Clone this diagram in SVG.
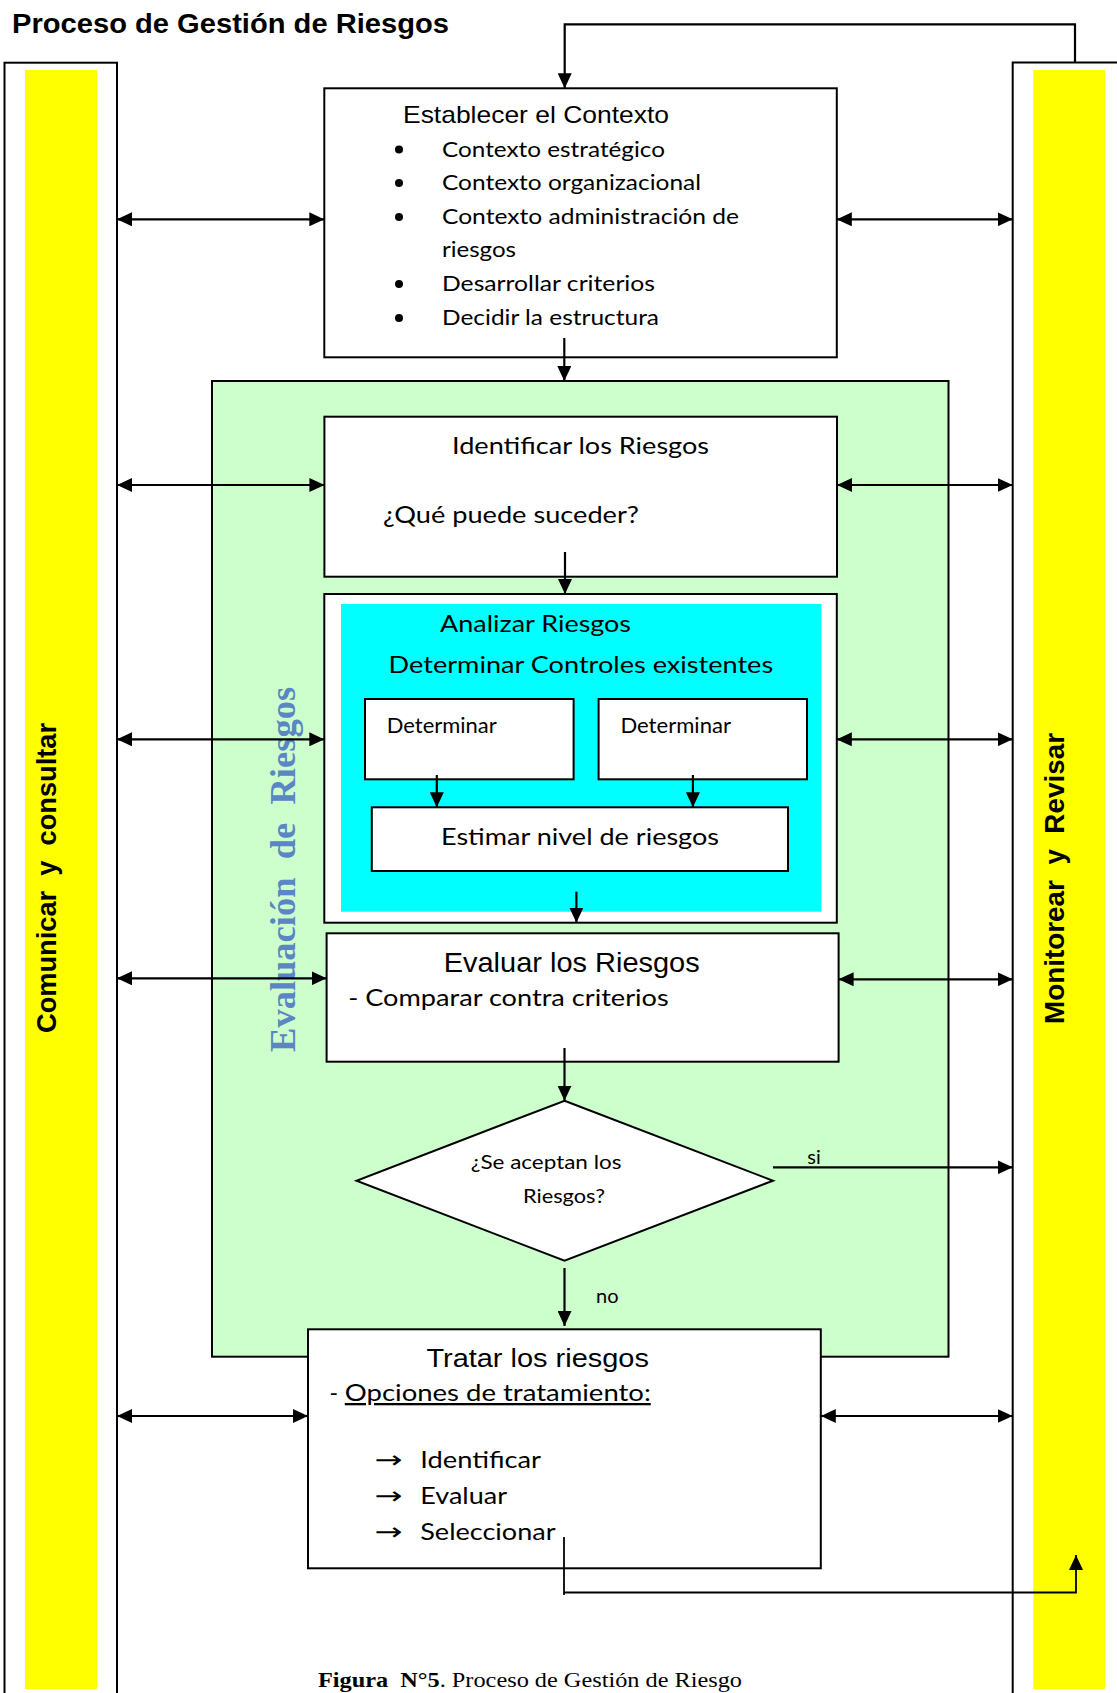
<svg xmlns="http://www.w3.org/2000/svg" width="1117" height="1693" viewBox="0 0 1117 1693">
<defs>
<marker id="ah" markerUnits="userSpaceOnUse" markerWidth="15" markerHeight="14" refX="15" refY="7" orient="auto-start-reverse">
<path d="M0,0 L15,7 L0,14 z" fill="#000"/>
</marker>
<style>
.box{fill:#fff;stroke:#000;stroke-width:2}
.con{fill:none;stroke:#000;stroke-width:2.2}
.thin{fill:none;stroke:#000;stroke-width:1.8}
.ar{font-family:'Liberation Sans',Arial,sans-serif;fill:#000}
.ca{font-family:Lato,'Noto Sans',sans-serif;fill:#000}
.sym{font-family:'DejaVu Sans',sans-serif;fill:#000}
.se{font-family:'Liberation Serif','Times New Roman',serif;fill:#000}
</style>
</defs>
<rect width="1117" height="1693" fill="#fff"/>
<text class="ar" x="12" y="32.5" font-size="27.5" font-weight="bold" textLength="437" lengthAdjust="spacingAndGlyphs">Proceso de Gestión de Riesgos</text>

<g id="comunicar">
<rect class="box" x="4.5" y="62.7" width="112.5" height="1650"/>
<rect x="25" y="70" width="72" height="1619" fill="#ffff00"/>
<text class="ar" transform="translate(56,878) rotate(-90)" text-anchor="middle" font-size="28" font-weight="bold" textLength="310" lengthAdjust="spacingAndGlyphs">Comunicar&#160; y&#160; consultar</text>
</g>

<g id="monitorear">
<rect class="box" x="1012.7" y="62.5" width="200" height="1650"/>
<rect x="1033.3" y="70" width="71.7" height="1619" fill="#ffff00"/>
<text class="ar" transform="translate(1064,878.5) rotate(-90)" text-anchor="middle" font-size="28" font-weight="bold" textLength="291" lengthAdjust="spacingAndGlyphs">Monitorear&#160; y&#160; Revisar</text>
</g>

<g id="evaluacion">
<rect x="212" y="381" width="736.5" height="975.7" fill="#ccffcc" stroke="#000" stroke-width="2"/>
</g>

<g id="establecer">
<rect class="box" x="324.3" y="88.3" width="512.5" height="269"/>
<text class="ar" x="403" y="123.3" font-size="24" textLength="266" lengthAdjust="spacingAndGlyphs">Establecer el Contexto</text>
<g fill="#000">
<circle cx="399" cy="149.5" r="4"/>
<circle cx="399" cy="183" r="4"/>
<circle cx="399" cy="217" r="4"/>
<circle cx="399" cy="284" r="4"/>
<circle cx="399" cy="318" r="4"/>
</g>
<text class="ca" x="442" y="156.5" font-size="22" textLength="223" lengthAdjust="spacingAndGlyphs">Contexto estratégico</text>
<text class="ca" x="442" y="190" font-size="22" textLength="259" lengthAdjust="spacingAndGlyphs">Contexto organizacional</text>
<text class="ca" x="442" y="224" font-size="22" textLength="297" lengthAdjust="spacingAndGlyphs">Contexto administración de</text>
<text class="ca" x="442" y="257" font-size="22" textLength="74" lengthAdjust="spacingAndGlyphs">riesgos</text>
<text class="ca" x="442" y="291" font-size="22" textLength="213" lengthAdjust="spacingAndGlyphs">Desarrollar criterios</text>
<text class="ca" x="442" y="325" font-size="22" textLength="217" lengthAdjust="spacingAndGlyphs">Decidir la estructura</text>
</g>

<g id="identificar">
<rect class="box" x="324.4" y="416.7" width="512.6" height="160"/>
<text class="ca" x="452" y="454.3" font-size="24" textLength="257" lengthAdjust="spacingAndGlyphs">Identificar los Riesgos</text>
<text class="ca" x="383" y="522.7" font-size="24" textLength="256" lengthAdjust="spacingAndGlyphs">¿Qué puede suceder?</text>
</g>

<g id="analizar">
<rect class="box" x="324.3" y="594" width="512.5" height="328.7"/>
<rect x="341" y="604" width="480.4" height="307.7" fill="#00ffff"/>
<text class="ca" x="440" y="631.7" font-size="24" textLength="191" lengthAdjust="spacingAndGlyphs">Analizar Riesgos</text>
<text class="ca" x="388.6" y="673.3" font-size="23" textLength="384.6" lengthAdjust="spacingAndGlyphs">Determinar Controles existentes</text>
</g>

<g id="determinar1">
<rect class="box" x="365" y="699" width="208.6" height="80.3"/>
<text class="ca" x="386.8" y="733.3" font-size="21" textLength="110" lengthAdjust="spacingAndGlyphs">Determinar</text>
</g>

<g id="determinar2">
<rect class="box" x="598.6" y="699" width="208.4" height="80.3"/>
<text class="ca" x="620.4" y="733.3" font-size="21" textLength="110.6" lengthAdjust="spacingAndGlyphs">Determinar</text>
</g>

<g id="estimar">
<rect class="box" x="371.8" y="807.3" width="416.2" height="63.7"/>
<text class="ca" x="441" y="845" font-size="24" textLength="278" lengthAdjust="spacingAndGlyphs">Estimar nivel de riesgos</text>
</g>

<g id="evaluar">
<rect class="box" x="326.6" y="933.3" width="512" height="128.4"/>
<text class="ar" x="443.7" y="971.7" font-size="28" textLength="256" lengthAdjust="spacingAndGlyphs">Evaluar los Riesgos</text>
<text class="ca" x="348.2" y="1006" font-size="24" textLength="320.5" lengthAdjust="spacingAndGlyphs">- Comparar contra criterios</text>
</g>

<g id="decision">
<polygon points="564.5,1100.7 773,1180.7 564.5,1260.7 356.5,1180.7" fill="#fff" stroke="#000" stroke-width="2"/>
<text class="ca" x="470.8" y="1169.3" font-size="20" textLength="150.6" lengthAdjust="spacingAndGlyphs">¿Se aceptan los</text>
<text class="ca" x="523" y="1202.7" font-size="20" textLength="82" lengthAdjust="spacingAndGlyphs">Riesgos?</text>
</g>

<g id="tratar">
<rect class="box" x="308" y="1329.3" width="512.8" height="239"/>
<text class="ar" x="426.4" y="1366.7" font-size="26" textLength="222.5" lengthAdjust="spacingAndGlyphs">Tratar los riesgos</text>
<text class="ca" x="329.5" y="1401" font-size="23">- </text>
<text class="ca" x="344.8" y="1401" font-size="23" text-decoration="underline" textLength="306" lengthAdjust="spacingAndGlyphs">Opciones de tratamiento:</text>
<text class="sym" x="374.4" y="1468.3" font-size="24" textLength="28" lengthAdjust="spacingAndGlyphs">→</text>
<text class="ca" x="420.3" y="1468.3" font-size="23" textLength="120.7" lengthAdjust="spacingAndGlyphs">Identificar</text>
<text class="sym" x="374.4" y="1504" font-size="24" textLength="28" lengthAdjust="spacingAndGlyphs">→</text>
<text class="ca" x="420.3" y="1504" font-size="23" textLength="86.7" lengthAdjust="spacingAndGlyphs">Evaluar</text>
<text class="sym" x="374.4" y="1540" font-size="24" textLength="28" lengthAdjust="spacingAndGlyphs">→</text>
<text class="ca" x="420.3" y="1540" font-size="23" textLength="135.2" lengthAdjust="spacingAndGlyphs">Seleccionar</text>
</g>

<g id="evaluacion-label">
<text transform="translate(295,869.4) rotate(-90)" text-anchor="middle" font-family="'Liberation Serif','Times New Roman',serif" font-size="36" font-weight="bold" fill="#5b86c4" textLength="365" lengthAdjust="spacingAndGlyphs">Evaluación&#160; de&#160; Riesgos</text>
</g>

<g id="connectors">
<path class="con" d="M1075,62.5 V24.3 H564.7 V88.3" marker-end="url(#ah)"/>
<path class="con" d="M564.3,338 V381" marker-end="url(#ah)"/>
<path class="con" d="M565,552 V594" marker-end="url(#ah)"/>
<path class="con" d="M436.8,775 V807.3" marker-end="url(#ah)"/>
<path class="con" d="M692.9,775 V807.3" marker-end="url(#ah)"/>
<path class="con" d="M576.4,891.7 V922.7" marker-end="url(#ah)"/>
<path class="con" d="M564.5,1048 V1100.7" marker-end="url(#ah)"/>
<path class="con" d="M564.5,1268 V1326" marker-end="url(#ah)"/>
<path class="con" d="M773,1167.3 H1012.7" marker-end="url(#ah)"/>
<path class="con" d="M117,219.3 H324.3" marker-start="url(#ah)" marker-end="url(#ah)"/>
<path class="con" d="M836.8,219.3 H1012.7" marker-start="url(#ah)" marker-end="url(#ah)"/>
<path class="con" d="M117,485 H324.4" marker-start="url(#ah)" marker-end="url(#ah)"/>
<path class="con" d="M837,485 H1012.7" marker-start="url(#ah)" marker-end="url(#ah)"/>
<path class="con" d="M117,739.3 H324.3" marker-start="url(#ah)" marker-end="url(#ah)"/>
<path class="con" d="M836.8,739.3 H1012.7" marker-start="url(#ah)" marker-end="url(#ah)"/>
<path class="con" d="M117,978.3 H326.6" marker-start="url(#ah)" marker-end="url(#ah)"/>
<path class="con" d="M838.6,979.3 H1012.7" marker-start="url(#ah)" marker-end="url(#ah)"/>
<path class="con" d="M117,1416 H308" marker-start="url(#ah)" marker-end="url(#ah)"/>
<path class="con" d="M820.8,1416 H1012.7" marker-start="url(#ah)" marker-end="url(#ah)"/>
<path class="thin" d="M564,1537 V1595"/>
<path class="thin" d="M564,1592.5 H1076 V1555" marker-end="url(#ah)"/>
<text class="ca" x="807.3" y="1164.3" font-size="20">si</text>
<text class="ca" x="596" y="1303" font-size="20">no</text>
</g>

<text class="se" x="318" y="1687" font-size="21" textLength="424" lengthAdjust="spacingAndGlyphs"><tspan font-weight="bold">Figura&#160; N°5</tspan>. Proceso de Gestión de Riesgo</text>
</svg>
